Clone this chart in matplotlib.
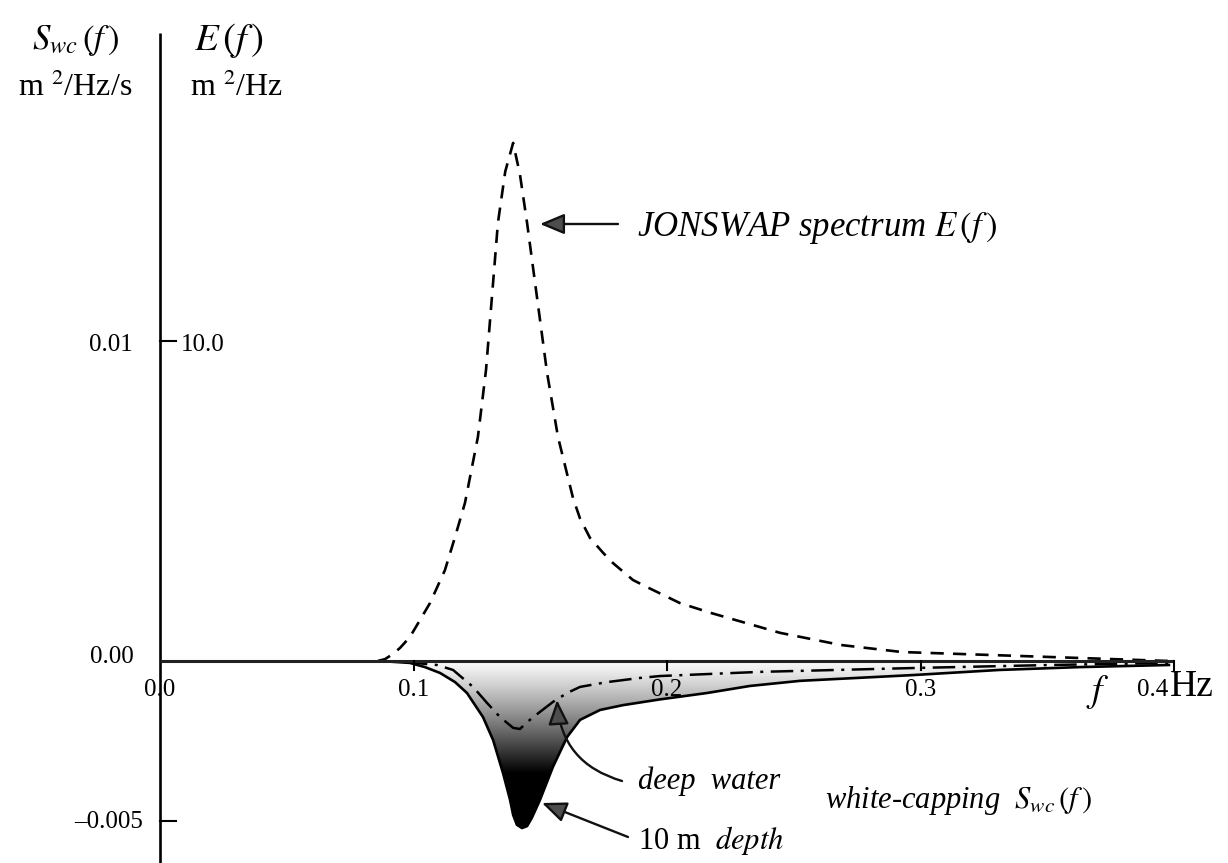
import numpy as np
import matplotlib
matplotlib.use("Agg")
import matplotlib.pyplot as plt
from matplotlib.patches import Polygon, FancyArrowPatch

plt.rcParams["font.family"] = ["Liberation Serif", "DejaVu Serif"]
plt.rcParams["mathtext.fontset"] = "stix"

# JONSWAP spectrum E(f) in m^2/Hz
f_jonswap = [0.0860, 0.0888, 0.0919, 0.0947, 0.0986, 0.1065, 0.1124, 0.1164, 0.1203,
             0.1254, 0.1286, 0.1333, 0.1362, 0.1393, 0.1420, 0.1448, 0.1527, 0.1570,
             0.1629, 0.1657, 0.1696, 0.1748, 0.1787, 0.1866, 0.1921, 0.2051, 0.2174,
             0.2446, 0.2686, 0.2927, 0.3230, 0.3530, 0.3830, 0.3980]
E_jonswap = [0.0, 0.06, 0.22, 0.41, 0.75, 1.81, 2.84, 3.88, 4.94,
             7.0, 9.09, 13.69, 15.3, 16.19, 15.2, 13.69, 9.0, 7.0,
             5.1, 4.45, 3.85, 3.38, 3.06, 2.53, 2.31, 1.81, 1.5,
             0.88, 0.5, 0.28, 0.2, 0.12, 0.04, 0.0]

# white-capping S_wc(f), 10 m depth, in m^2/Hz/s
f_10m = [0.0868, 0.0986, 0.1045, 0.1105, 0.1164, 0.1211, 0.1274, 0.1314, 0.1353, 0.1381,
         0.1393, 0.1408, 0.1428, 0.1448, 0.1467, 0.1499, 0.1550, 0.1606, 0.1657, 0.1736,
         0.1826, 0.1972, 0.2158, 0.2327, 0.2525, 0.2970, 0.3310, 0.3630, 0.3980]
S_10m = [0.0, -0.00006, -0.00019, -0.000375, -0.00066, -0.0010, -0.00175, -0.00247, -0.0035,
         -0.00434, -0.00481, -0.00512, -0.00522, -0.00516, -0.0049, -0.00434, -0.00331,
         -0.002375, -0.00184, -0.00153, -0.00138, -0.0012, -0.0010, -0.00078, -0.00062,
         -0.00044, -0.00028, -0.00019, -0.000125]

# white-capping S_wc(f), deep water
f_deep = [0.0966, 0.1093, 0.1156, 0.1235, 0.1290, 0.1341, 0.1393, 0.1420, 0.1448, 0.1499,
          0.1550, 0.1606, 0.1657, 0.1763, 0.1893, 0.1972, 0.2367, 0.2970, 0.3510, 0.3980]
S_deep = [-0.00003, -0.000125, -0.00028, -0.00081, -0.00131, -0.00175, -0.00209, -0.002125,
          -0.00191, -0.00159, -0.00128, -0.0010, -0.00081, -0.00066, -0.00053, -0.00047,
          -0.00034, -0.00022, -0.000125, -0.00006]

x_ticks = [0.1, 0.2, 0.3, 0.4]
x_tick_labels = ["0.1", "0.2", "0.3", "0.4"]

W, H = 1228, 863


def fp(x, y):
    return (x / W, 1 - y / H)


def main():
    fig = plt.figure(figsize=(W / 100, H / 100), dpi=100)
    ax = fig.add_axes([0, 0, 1, 1])
    ax.set_xlim(-160 / 2535, (W - 160) / 2535)
    ax.set_ylim(-(H - 661) / 32000, 661 / 32000)
    ax.axis("off")

    E_scaled = np.array(E_jonswap) / 1000.0  # 10 m^2/Hz drawn at 0.01

    # axes lines
    ax.plot([0, 0], [-0.0070, (661 - 33) / 32000], color="black", lw=1.9, solid_capstyle="butt")
    ax.plot([0, 0.4], [0, 0], color="#222222", lw=2.2, solid_capstyle="butt", zorder=5)
    tick_len = 9 / 32000
    for xt in x_ticks:
        ax.plot([xt, xt], [0, -tick_len], color="black", lw=1.5, zorder=5)
    for yt in [0.01, -0.005]:
        ax.plot([0, 16 / 2535], [yt, yt], color="black", lw=1.5)

    # gradient fill of the 10 m depth curve
    verts = np.column_stack([f_10m, S_10m])
    verts = np.vstack([verts, [[f_10m[-1], 0], [f_10m[0], 0]]])
    poly = Polygon(verts, closed=True, facecolor="none", edgecolor="none")
    ax.add_patch(poly)
    s_grid = np.linspace(0, -0.0054, 300).reshape(-1, 1)
    depth = np.clip(-s_grid / 0.0035, 0, 1)
    shade = 0.98 * (1 - depth ** 1.15)
    im = ax.imshow(shade, cmap="gray", vmin=0, vmax=1, aspect="auto",
                   extent=[0.08, 0.41, -0.0054, 0], origin="upper", zorder=1)
    im.set_clip_path(poly)

    ax.plot(f_10m, S_10m, color="black", lw=1.9, zorder=3)
    ax.plot(f_deep, S_deep, color="black", lw=1.8, linestyle=(0, (9, 3, 1.2, 3)), zorder=4)
    ax.plot(f_jonswap, E_scaled, color="black", lw=1.9, linestyle=(0, (5, 3.5)), zorder=4)

    # tick labels
    fs = 18
    ax.text(*fp(133, 345), "0.01", transform=fig.transFigure, ha="right", va="center", fontsize=fs)
    ax.text(*fp(181, 345), "10.0", transform=fig.transFigure, ha="left", va="center", fontsize=fs)
    ax.text(*fp(134, 657), "0.00", transform=fig.transFigure, ha="right", va="center", fontsize=fs)
    ax.text(*fp(143, 822), "\u20130.005", transform=fig.transFigure, ha="right", va="center", fontsize=fs)
    ax.text(*fp(160, 690), "0.0", transform=fig.transFigure, ha="center", va="center", fontsize=fs)
    for xt, lab in zip(x_ticks[:-1], x_tick_labels[:-1]):
        ax.text(xt, -(690 - 661) / 32000, lab, ha="center", va="center", fontsize=fs)
    ax.text(*fp(1168, 690), "0.4", transform=fig.transFigure, ha="right", va="center", fontsize=fs)
    ax.text(*fp(1170, 687), "Hz", transform=fig.transFigure, ha="left", va="center", fontsize=27)
    ax.text(*fp(1098, 692), r"$f$", transform=fig.transFigure, ha="center", va="center", fontsize=27)

    # axis headers
    ax.text(*fp(76, 40), r"$S_{wc}\,(f\,)$", transform=fig.transFigure, ha="center", va="center", fontsize=25)
    ax.text(*fp(75, 88), r"m $^{2}$/Hz/s", transform=fig.transFigure, ha="center", va="center", fontsize=23)
    ax.text(*fp(229, 40), r"$E\,(f\,)$", transform=fig.transFigure, ha="center", va="center", fontsize=28)
    ax.text(*fp(237, 88), r"m $^{2}$/Hz", transform=fig.transFigure, ha="center", va="center", fontsize=23)

    # annotations
    ax.text(*fp(637, 228), r"JONSWAP spectrum $E\,(f\,)$", transform=fig.transFigure,
            ha="left", va="center", fontsize=25, style="italic")
    ax.text(*fp(638, 781), "deep  water", transform=fig.transFigure,
            ha="left", va="center", fontsize=22, style="italic")
    ax.text(*fp(638, 840), r"10 m  $\mathit{depth}$", transform=fig.transFigure,
            ha="left", va="center", fontsize=22)
    ax.text(*fp(825, 800), r"white-capping  $S_{wc}\,(f\,)$", transform=fig.transFigure,
            ha="left", va="center", fontsize=22, style="italic")

    arrow_kw = dict(arrowstyle="-|>,head_length=1.0,head_width=0.42", mutation_scale=15,
                    lw=1.7, edgecolor="#111111", facecolor="#4d4d4d",
                    transform=fig.transFigure, zorder=6, shrinkA=0, shrinkB=0)
    fig.patches.append(FancyArrowPatch(fp(618, 224), fp(540, 224), **arrow_kw))
    fig.patches.append(FancyArrowPatch(fp(622, 781), fp(557, 700),
                                       connectionstyle="arc3,rad=-0.35", **arrow_kw))
    fig.patches.append(FancyArrowPatch(fp(628, 837), fp(542, 803), **arrow_kw))

    fig.savefig("out.png", dpi=100, facecolor="white")
    plt.close(fig)


if __name__ == "__main__":
    main()
